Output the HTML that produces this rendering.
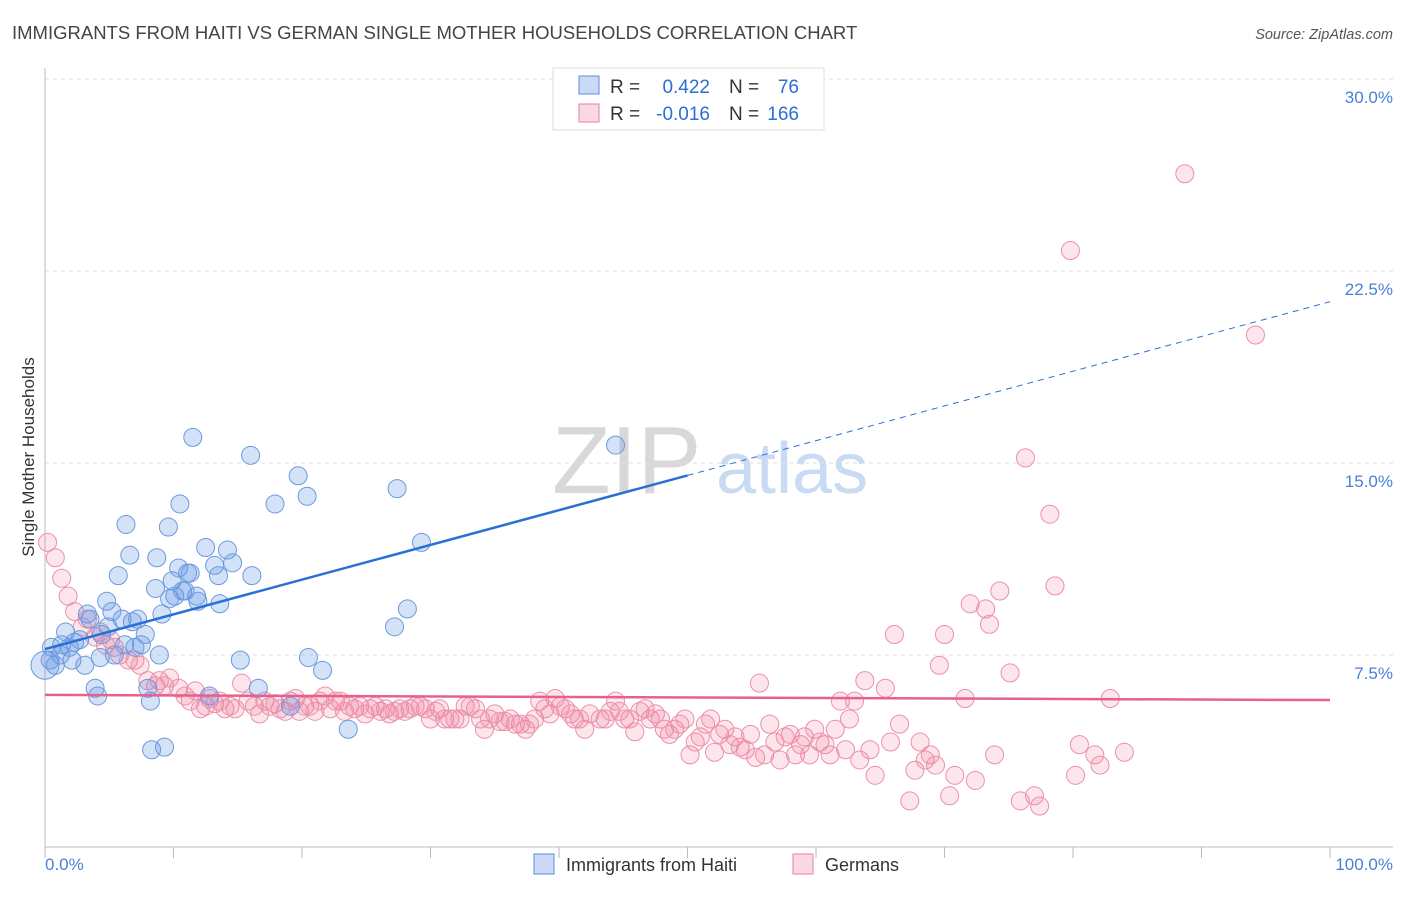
<!DOCTYPE html>
<html><head><meta charset="utf-8"><style>
body{margin:0;background:#fff;font-family:"Liberation Sans",sans-serif;}
svg text{font-family:"Liberation Sans",sans-serif;}
</style></head><body>
<svg id="chart" width="1406" height="892">
<text x="12" y="39" font-size="18.5" fill="#444">IMMIGRANTS FROM HAITI VS GERMAN SINGLE MOTHER HOUSEHOLDS CORRELATION CHART</text>
<text x="1393" y="39" font-size="14.5" fill="#555" text-anchor="end" font-style="italic">Source: ZipAtlas.com</text>
<g>
<text x="552" y="493" font-size="96" fill="#d8d8d8" font-family="Liberation Serif">ZIP</text>
<text x="716" y="493" font-size="72" fill="#c9dbf2">atlas</text>
</g>
<g id="grid"></g>
<g id="axes"></g>
<g id="pink"></g>
<g id="blue"></g>
<g id="trends"></g>
<text transform="translate(34,457) rotate(-90)" font-size="17" fill="#333" text-anchor="middle">Single Mother Households</text>
<text x="45" y="870" font-size="17" fill="#4a7fd8">0.0%</text>
<text x="1393" y="870" font-size="17" fill="#4a7fd8" text-anchor="end">100.0%</text>
<g>
<rect x="553" y="68" width="271" height="62" fill="#fff" stroke="#ddd"/>
<rect x="579" y="76" width="20" height="18" fill="rgba(100,150,230,0.35)" stroke="#5b8fd9"/>
<rect x="579" y="104" width="20" height="18" fill="rgba(240,130,160,0.3)" stroke="#e87fa0"/>
<text x="610" y="93" font-size="19" fill="#333">R =</text>
<text x="710" y="93" font-size="19" fill="#2a6fd6" text-anchor="end">0.422</text>
<text x="729" y="93" font-size="19" fill="#333">N =</text>
<text x="799" y="93" font-size="19" fill="#2a6fd6" text-anchor="end">76</text>
<text x="610" y="120" font-size="19" fill="#333">R =</text>
<text x="710" y="120" font-size="19" fill="#2a6fd6" text-anchor="end">-0.016</text>
<text x="729" y="120" font-size="19" fill="#333">N =</text>
<text x="799" y="120" font-size="19" fill="#2a6fd6" text-anchor="end">166</text>
</g>
<g>
<rect x="534" y="854" width="20" height="20" fill="rgba(100,150,230,0.35)" stroke="#5b8fd9"/>
<text x="566" y="871" font-size="18" fill="#333">Immigrants from Haiti</text>
<rect x="793" y="854" width="20" height="20" fill="rgba(240,130,160,0.3)" stroke="#e87fa0"/>
<text x="825" y="871" font-size="18" fill="#333">Germans</text>
</g>
</svg>
<script>
const yTicks=[7.5,15,22.5,30];
const yTickLabels=["7.5%","15.0%","22.5%","30.0%"];
const xTicks=[0,10,20,30,40,50,60,70,80,90,100];
const haitiX=[0,.4,.8,.5,1.2,1.6,1.3,1.9,2.3,2.1,2.7,3.1,3.3,3.5,3.9,4.1,4.3,4.4,4.8,4.9,5.2,5.4,5.7,6.0,6.2,6.3,6.6,6.8,7.0,7.2,7.5,7.8,8.0,8.2,8.3,8.6,8.7,8.9,9.1,9.3,9.6,9.7,9.9,10.1,10.4,10.5,10.7,10.9,11.1,11.3,11.5,11.8,11.9,12.5,12.8,13.2,13.5,13.6,14.2,14.6,15.2,16.0,16.1,16.6,17.9,19.1,19.7,20.4,20.5,21.6,23.6,27.2,27.4,28.2,29.3,44.4];
const haitiY=[7.1,7.3,7.1,7.8,7.5,8.4,7.9,7.8,8.0,7.3,8.1,7.1,9.1,8.9,6.2,5.9,7.4,8.3,9.6,8.6,9.2,7.5,10.6,8.9,7.9,12.6,11.4,8.8,7.8,8.9,7.9,8.3,6.2,5.7,3.8,10.1,11.3,7.5,9.1,3.9,12.5,9.7,10.4,9.8,10.9,13.4,10.0,10.0,10.7,10.7,16.0,9.8,9.6,11.7,5.9,11.0,10.6,9.5,11.6,11.1,7.3,15.3,10.6,6.2,13.4,5.5,14.5,13.7,7.4,6.9,4.6,8.6,14.0,9.3,11.9,15.7];
const germX=[.2,.8,1.3,1.8,2.3,2.9,3.3,3.9,4.3,4.7,5.1,5.4,5.8,6.5,7.0,7.4,8.0,8.6,8.9,9.3,9.7,10.4,10.9,11.3,11.7,12.1,12.5,12.8,13.2,13.6,14.0,14.4,14.8,15.3,15.8,16.3,16.7,17.1,17.5,17.9,18.3,18.7,19.1,19.5,19.8,20.2,20.6,21.0,21.4,21.8,22.2,22.6,23.0,23.3,23.7,24.1,24.5,24.9,25.3,25.7,26.1,26.5,26.8,27.2,27.6,28.0,28.4,28.8,29.2,29.6,30.0,30.4,30.7,31.1,31.5,31.9,32.3,32.7,33.1,33.5,33.9,34.2,34.6,35.0,35.4,35.8,36.2,36.6,37.0,37.4,37.7,38.1,38.5,38.9,39.3,39.7,40.1,40.5,40.9,41.2,41.6,42.0,42.4,43.2,43.6,44.0,44.4,44.7,45.1,45.5,45.9,46.3,46.7,47.1,47.5,47.9,48.2,48.6,49.0,49.4,49.8,50.2,50.6,51.0,51.4,51.8,52.1,52.5,52.9,53.3,53.7,54.1,54.5,54.9,55.3,55.6,56.0,56.4,56.8,57.2,57.6,58.0,58.4,58.8,59.1,59.5,59.9,60.3,60.7,61.1,61.5,61.9,62.3,62.6,63.0,63.4,63.8,64.2,64.6,65.4,65.8,66.1,66.5,67.3,67.7,68.1,68.5,68.9,69.3,69.6,70.0,70.4,70.8,71.6,72.0,72.4,73.2,73.5,73.9,74.3,75.1,75.9,76.3,77.0,77.4,78.2,78.6,80.2,80.5,81.7,82.1,82.9,84.0,79.8,88.7,94.2];
const germY=[11.9,11.3,10.5,9.8,9.2,8.6,8.9,8.2,8.4,7.9,8.1,7.8,7.5,7.3,7.3,7.1,6.5,6.3,6.5,6.3,6.6,6.2,5.9,5.7,6.1,5.4,5.5,5.8,5.6,5.7,5.4,5.5,5.4,6.4,5.7,5.5,5.2,5.7,5.5,5.6,5.4,5.3,5.7,5.8,5.3,5.5,5.5,5.3,5.7,5.9,5.4,5.7,5.7,5.3,5.5,5.4,5.5,5.2,5.4,5.5,5.3,5.4,5.2,5.3,5.4,5.3,5.4,5.5,5.5,5.4,5.0,5.3,5.4,5.0,5.0,5.0,5.0,5.5,5.5,5.4,5.0,4.6,5.0,5.2,4.9,4.9,5.0,4.8,4.8,4.6,4.8,5.0,5.7,5.4,5.2,5.8,5.5,5.4,5.2,5.0,5.0,4.6,5.2,5.0,5.0,5.3,5.7,5.3,5.0,5.0,4.5,5.3,5.4,5.0,5.2,5.0,4.6,4.4,4.6,4.8,5.0,3.6,4.1,4.3,4.8,5.0,3.7,4.4,4.6,4.0,4.3,3.9,3.8,4.4,3.5,6.4,3.6,4.8,4.1,3.4,4.3,4.4,3.6,4.0,4.3,3.6,4.6,4.1,4.0,3.6,4.6,5.7,3.8,5.0,5.7,3.4,6.5,3.8,2.8,6.2,4.1,8.3,4.8,1.8,3.0,4.1,3.4,3.6,3.2,7.1,8.3,2.0,2.8,5.8,9.5,2.6,9.3,8.7,3.6,10.0,6.8,1.8,15.2,2.0,1.6,13.0,10.2,2.8,4.0,3.6,3.2,5.8,3.7,23.3,26.3,20.0];
const haitiTrend=[7.73,21.3];
const germTrend=[5.94,5.74];

const NS="http://www.w3.org/2000/svg";
const X0=45,X1=1330,Y0=847,Y30=79;
function sx(v){return X0+(X1-X0)*v/100;}
function sy(v){return Y0-(Y0-Y30)*v/30;}
function mk(tag,attrs,parent){const e=document.createElementNS(NS,tag);for(const k in attrs)e.setAttribute(k,attrs[k]);parent.appendChild(e);return e;}
const grid=document.getElementById('grid'),axes=document.getElementById('axes');
yTicks.forEach((t,i)=>{
  const l=mk('line',{x1:X0,x2:1393,y1:sy(t),y2:sy(t),stroke:'#ddd','stroke-dasharray':'4,4'},grid);
  
  
  const tx=mk('text',{x:1393,y:sy(t)+24,'font-size':17,fill:'#4a7fd8','text-anchor':'end'},axes);
  tx.textContent=yTickLabels[i];
  
  
});
const ya=mk('line',{x1:X0,x2:X0,y1:68,y2:Y0,stroke:'#bbb'},axes);


const xa=mk('line',{x1:X0,x2:1393,y1:Y0,y2:Y0,stroke:'#bbb'},axes);


xTicks.forEach(t=>{
  const l=mk('line',{x1:sx(t),x2:sx(t),y1:Y0,y2:Y0+11,stroke:'#bbb'},axes);
  
  
});
const pink=document.getElementById('pink');
germX.forEach((x,i)=>{
  const c=mk('circle',{cx:sx(x),cy:sy(germY[i]),r:9,fill:'rgba(240,130,160,0.2)',stroke:'#ec8fab','stroke-width':1},pink);
  
  
});
const blue=document.getElementById('blue');
haitiX.forEach((x,i)=>{
  const c=mk('circle',{cx:sx(x),cy:sy(haitiY[i]),r:i===0?14:9,fill:'rgba(100,150,230,0.28)',stroke:'#6a9ade','stroke-width':1},blue);
  
  
});
const tr=document.getElementById('trends');
const hx=50, hy=haitiTrend[0]+(haitiTrend[1]-haitiTrend[0])*hx/100;
const t1=mk('line',{x1:sx(0),y1:sy(haitiTrend[0]),x2:sx(hx),y2:sy(hy),stroke:'#2a6fd6','stroke-width':2.5},tr);


const t2=mk('line',{x1:sx(hx),y1:sy(hy),x2:sx(100),y2:sy(haitiTrend[1]),stroke:'#2a6fd6','stroke-width':1,'stroke-dasharray':'6,5'},tr);


const t3=mk('line',{x1:sx(0),y1:sy(germTrend[0]),x2:sx(100),y2:sy(germTrend[1]),stroke:'#e8608a','stroke-width':2.5},tr);


</script>
</body></html>
